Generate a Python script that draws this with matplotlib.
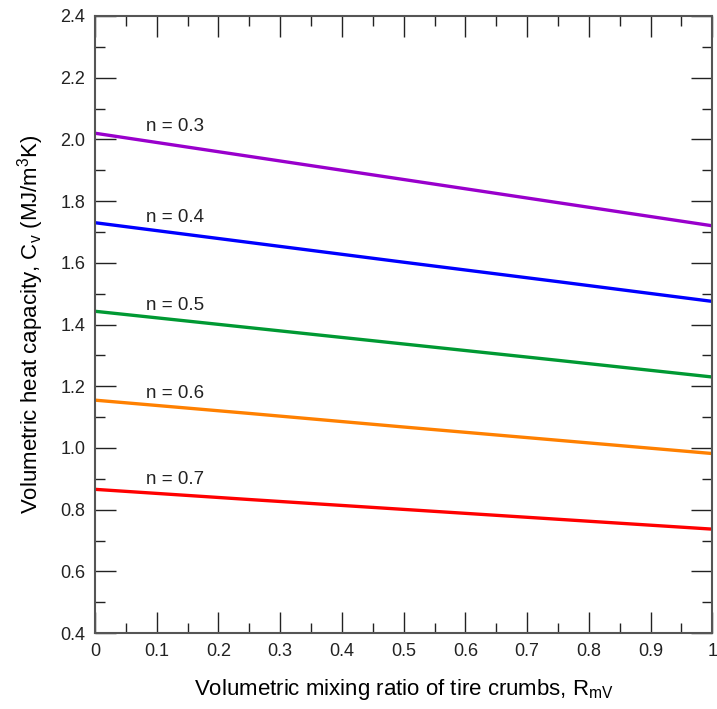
import numpy as np
import matplotlib.pyplot as plt
from matplotlib.ticker import MultipleLocator

plt.rcParams['font.family'] = ['Liberation Sans', 'DejaVu Sans']
plt.rcParams['mathtext.fontset'] = 'custom'
plt.rcParams['mathtext.rm'] = 'Liberation Sans'
plt.rcParams['mathtext.it'] = 'Liberation Sans'

# mixing ratio R_mV and heat capacity
r_mv = [0.0, 0.25, 0.5, 0.75, 1.0]
porosity = ['0.3', '0.4', '0.5', '0.6', '0.7']
cv_n03 = [2.02, 1.945, 1.87, 1.795, 1.72]
cv_n04 = [1.73, 1.666, 1.602, 1.539, 1.475]
cv_n05 = [1.443, 1.39, 1.337, 1.284, 1.23]
cv_n06 = [1.155, 1.112, 1.068, 1.025, 0.982]
cv_n07 = [0.866, 0.833, 0.801, 0.769, 0.737]
label_y = [2.043, 1.748, 1.463, 1.178, 0.899]

series = [cv_n03, cv_n04, cv_n05, cv_n06, cv_n07]
colors = ['#9900CC', '#0000FF', '#009933', '#FF8000', '#FF0000']

fig = plt.figure(figsize=(7.17, 7.09), dpi=100)
ax = fig.add_axes([0.1325, 0.107, 0.861, 0.8705])

for vals, c, n, ly in zip(series, colors, porosity, label_y):
    ax.plot(r_mv, vals, color=c, lw=2.4, solid_capstyle='butt')
    ax.text(0.083, ly, 'n = ' + n, fontsize=13.5, color='#222222', va='center')

ax.set_xlim(0, 1)
ax.set_ylim(0.4, 2.4)
ax.xaxis.set_major_locator(MultipleLocator(0.1))
ax.xaxis.set_minor_locator(MultipleLocator(0.05))
ax.yaxis.set_major_locator(MultipleLocator(0.2))
ax.yaxis.set_minor_locator(MultipleLocator(0.1))
ax.set_xticks(np.arange(0, 1.01, 0.1))
ax.set_xticklabels(['0', '0.1', '0.2', '0.3', '0.4', '0.5', '0.6', '0.7', '0.8', '0.9', '1'])
ax.set_yticklabels(['%.1f' % v for v in ax.get_yticks()])

ax.tick_params(which='both', direction='in', top=True, right=True, labelsize=13,
               colors='#222222')
ax.tick_params(which='major', length=15, width=1, pad=7)
ax.tick_params(which='minor', length=7, width=1)
for sp in ax.spines.values():
    sp.set_color('#555555')
    sp.set_linewidth(1.5)

ax.set_xlabel('Volumetric mixing ratio of tire crumbs, R$_{\\mathrm{mV}}$', fontsize=16, labelpad=12)
ax.set_ylabel('Volumetric heat capacity, C$_{\\mathrm{v}}$ (MJ/m$^{3}$K)', fontsize=16, labelpad=10)

fig.savefig('out.png', dpi=100)
